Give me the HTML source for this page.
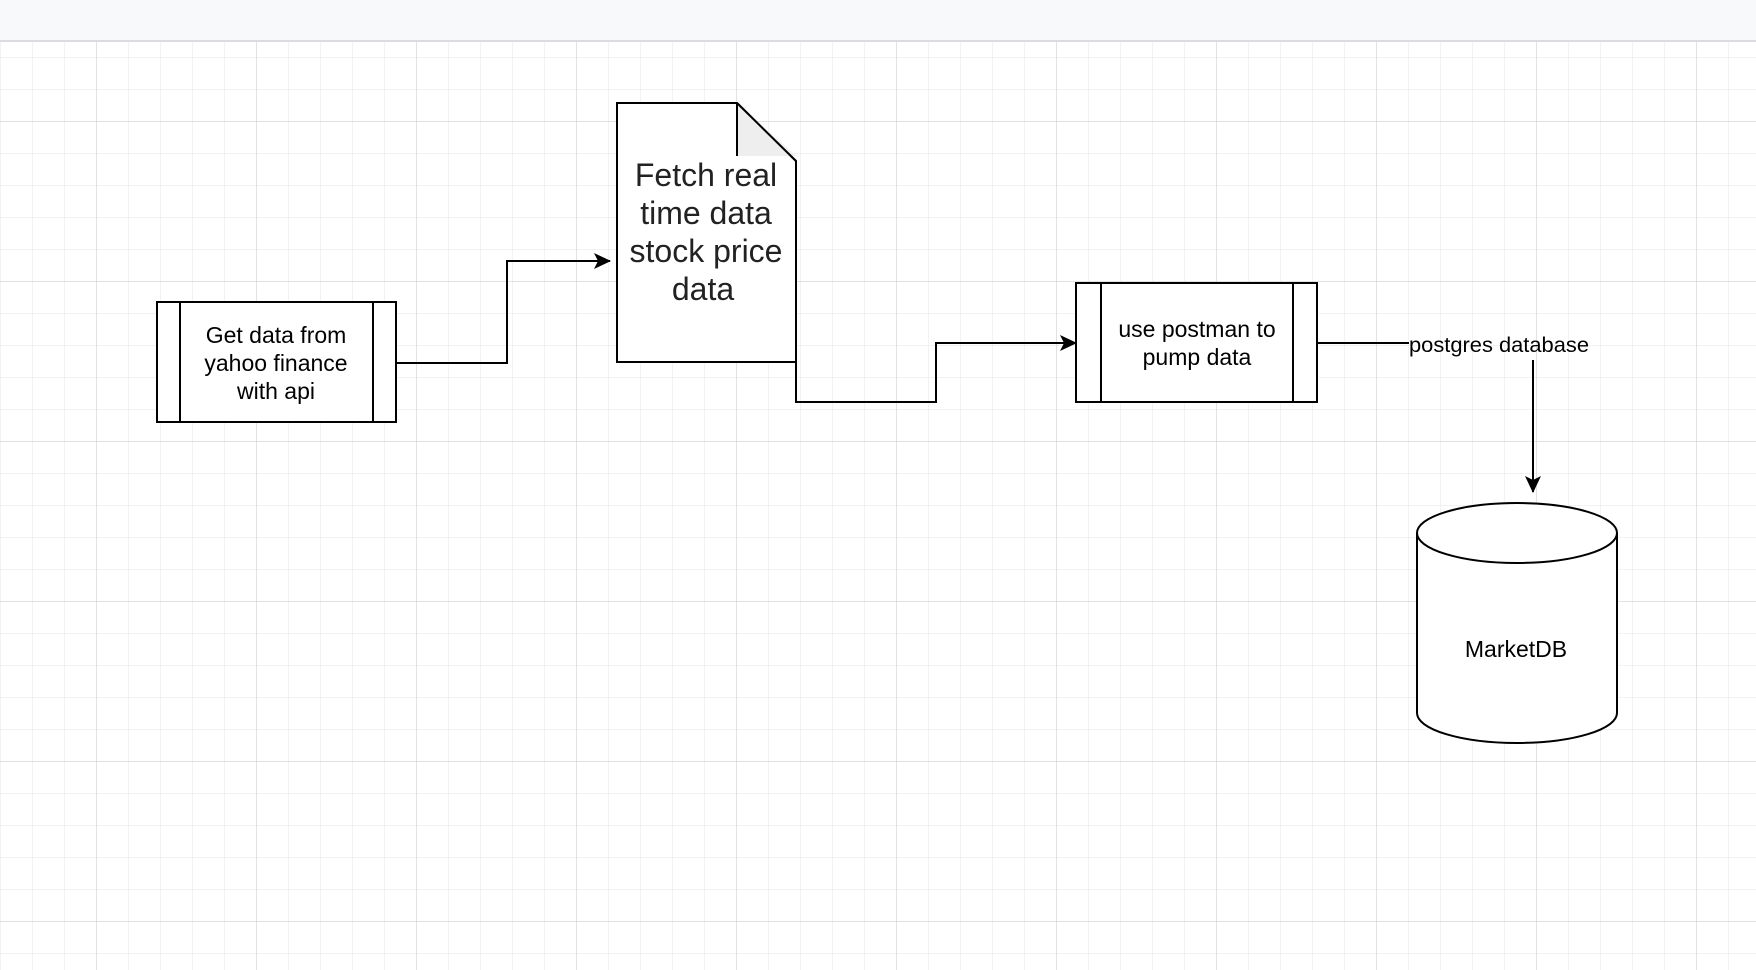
<!DOCTYPE html>
<html><head><meta charset="utf-8"><style>
html,body{margin:0;padding:0;width:1756px;height:970px;overflow:hidden;background:#fff;font-family:"Liberation Sans",Arial,sans-serif}
</style></head><body>
<svg width="1756" height="970" xmlns="http://www.w3.org/2000/svg">
<defs>
<pattern id="minor" x="0" y="25" width="32" height="32" patternUnits="userSpaceOnUse">
<path d="M0 0H32M0 0V32" fill="none" stroke="#e6e6e6" stroke-width="1"/>
</pattern>
<pattern id="major" x="96" y="121" width="160" height="160" patternUnits="userSpaceOnUse">
<path d="M0 0H160M0 0V160" fill="none" stroke="#cfcfcf" stroke-width="1.2"/>
</pattern>
<marker id="ah" markerWidth="18" markerHeight="16" refX="16" refY="8" orient="auto" markerUnits="userSpaceOnUse">
<path d="M0 0L17 8L0 16L4 8Z" fill="#000"/>
</marker>
</defs>
<rect x="0" y="41" width="1756" height="929" fill="url(#minor)"/>
<rect x="0" y="41" width="1756" height="929" fill="url(#major)"/>
<rect x="0" y="0" width="1756" height="41" fill="#f8f9fa"/>
<line x1="0" y1="41" x2="1756" y2="41" stroke="#dadce0" stroke-width="2"/>

<rect x="157" y="302" width="239" height="120" fill="#fff" stroke="#000" stroke-width="2"/>
<line x1="180" y1="302" x2="180" y2="422" stroke="#000" stroke-width="2"/>
<line x1="373" y1="302" x2="373" y2="422" stroke="#000" stroke-width="2"/>
<g font-size="23" text-anchor="middle" fill="#000">
<text x="276" y="343">Get data from</text>
<text x="276" y="371">yahoo finance</text>
<text x="276" y="399">with api</text>
</g>

<path d="M617 103H737L796 161V362H617Z" fill="#fff" stroke="#000" stroke-width="2"/>
<path d="M737 103V156H796Z" fill="#eeeeee"/>
<path d="M737 103V156M737 103L796 161" fill="none" stroke="#000" stroke-width="2"/>
<g font-size="32" text-anchor="middle" fill="#222">
<text x="706" y="186">Fetch real</text>
<text x="706" y="224">time data</text>
<text x="706" y="262">stock price</text>
<text x="703" y="300">data</text>
</g>

<path d="M396 363H507V261H610" fill="none" stroke="#000" stroke-width="2" marker-end="url(#ah)"/>
<path d="M796 362V402H936V343H1076" fill="none" stroke="#000" stroke-width="2" marker-end="url(#ah)"/>

<rect x="1076" y="283" width="241" height="119" fill="#fff" stroke="#000" stroke-width="2"/>
<line x1="1101" y1="283" x2="1101" y2="402" stroke="#000" stroke-width="2"/>
<line x1="1293" y1="283" x2="1293" y2="402" stroke="#000" stroke-width="2"/>
<g font-size="23" text-anchor="middle" fill="#000">
<text x="1197" y="337">use postman to</text>
<text x="1197" y="365">pump data</text>
</g>

<path d="M1317 343H1409" fill="none" stroke="#000" stroke-width="2"/>
<text x="1499" y="352" font-size="21" text-anchor="middle" fill="#000" textLength="180" lengthAdjust="spacingAndGlyphs">postgres database</text>
<path d="M1533 360V492" fill="none" stroke="#000" stroke-width="2" marker-end="url(#ah)"/>

<path d="M1417 533V713A100 30 0 0 0 1617 713V533" fill="#fff" stroke="#000" stroke-width="2"/>
<ellipse cx="1517" cy="533" rx="100" ry="30" fill="#fff" stroke="#000" stroke-width="2"/>
<text x="1516" y="657" font-size="23" text-anchor="middle" fill="#000">MarketDB</text>
</svg>
</body></html>
